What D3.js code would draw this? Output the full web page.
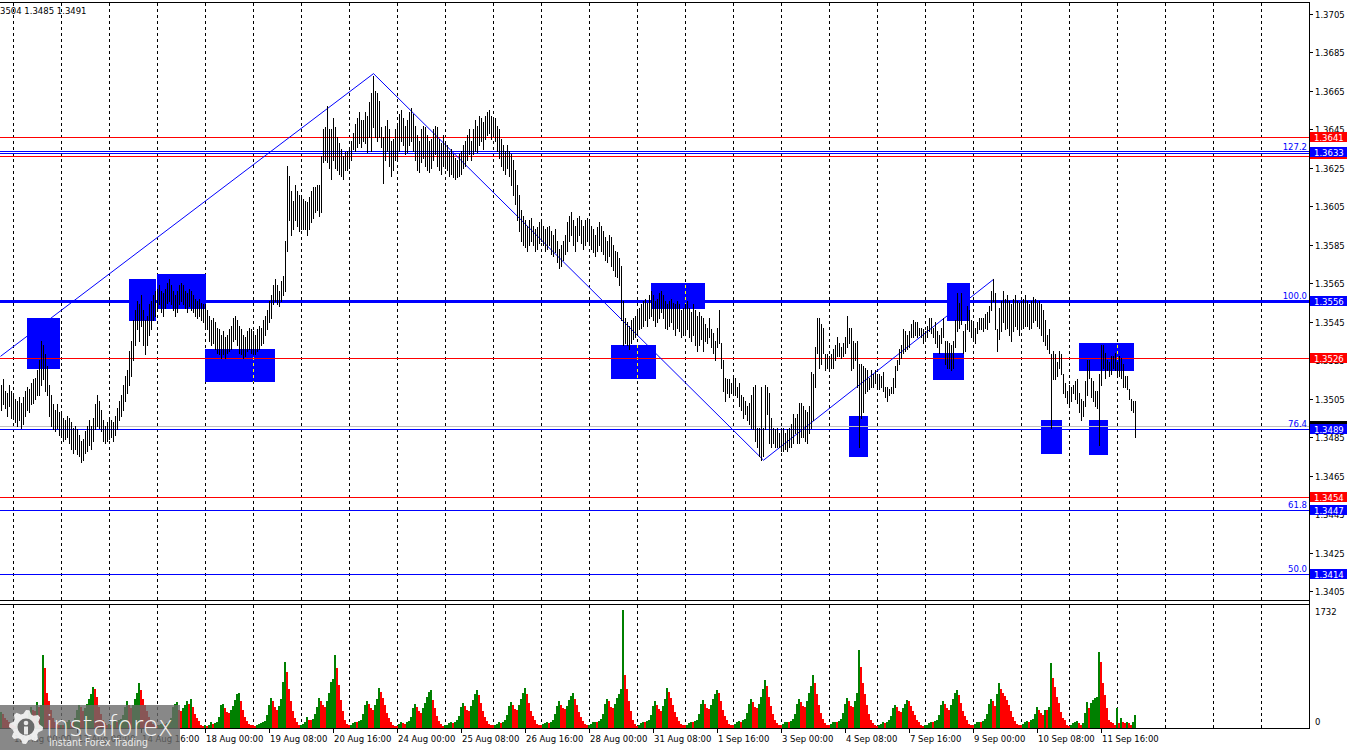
<!DOCTYPE html>
<html><head><meta charset="utf-8">
<script src="https://cdn.jsdelivr.net/npm/d3@7"></script>
<style>
body{margin:0;background:#fff;overflow:hidden}
svg{display:block}
text{font-family:"DejaVu Sans",sans-serif}
</style>
</head><body>
<svg id="c" width="1350" height="750"></svg>
<script>
// ---------- DATA (H1 bars, index 0 = first bar on the left) ----------
const high = [
1.3512,1.3515,1.3509,1.3508,1.3512,1.3509,
1.3507,1.3505,1.3504,1.3506,1.3503,1.3506,1.3509,1.3511,1.3510,1.3513,1.3515,1.3516,1.3520,1.3525,1.3535,1.3533,1.3528,1.3522,1.3512,1.3507,1.3502,1.3499,1.3502,1.3498,
1.3498,1.3495,1.3494,1.3496,1.3495,1.3493,1.3490,1.3491,1.3489,1.3486,1.3483,1.3484,1.3488,1.3491,1.3494,1.3491,1.3495,1.3502,1.3507,1.3504,1.3499,1.3494,1.3491,1.3493,
1.3495,1.3494,1.3493,1.3496,1.3500,1.3504,1.3507,1.3512,1.3517,1.3520,1.3530,1.3535,1.3546,1.3551,1.3556,1.3554,1.3559,1.3551,1.3546,1.3548,1.3554,1.3556,1.3559,1.3561,
1.3562,1.3564,1.3561,1.3560,1.3562,1.3565,1.3567,1.3564,1.3561,1.3559,1.3561,1.3564,1.3565,1.3564,1.3561,1.3560,1.3562,1.3561,1.3559,1.3557,1.3556,1.3557,1.3555,1.3554,
1.3554,1.3551,1.3548,1.3546,1.3547,1.3545,1.3542,1.3541,1.3538,1.3540,1.3537,1.3538,1.3541,1.3543,1.3547,1.3548,1.3546,1.3543,1.3541,1.3538,1.3537,1.3540,1.3542,1.3541,
1.3540,1.3538,1.3541,1.3543,1.3542,1.3546,1.3548,1.3551,1.3556,1.3559,1.3564,1.3567,1.3564,1.3561,1.3566,1.3569,1.3587,1.3626,1.3621,1.3613,1.3608,1.3616,1.3613,1.3611,
1.3611,1.3609,1.3608,1.3607,1.3610,1.3613,1.3615,1.3615,1.3616,1.3616,1.3631,1.3645,1.3646,1.3657,1.3645,1.3645,1.3651,1.3646,1.3641,1.3638,1.3635,1.3631,1.3633,1.3634,
1.3635,1.3639,1.3643,1.3648,1.3651,1.3654,1.3650,1.3650,1.3654,1.3652,1.3659,1.3664,1.3673,1.3665,1.3664,1.3660,1.3646,1.3641,1.3647,1.3650,1.3645,1.3639,1.3640,1.3645,
1.3647,1.3653,1.3655,1.3651,1.3647,1.3650,1.3654,1.3656,1.3653,1.3647,1.3642,1.3639,1.3645,1.3647,1.3646,1.3642,1.3639,1.3640,1.3645,1.3647,1.3646,1.3640,1.3638,1.3642,
1.3639,1.3637,1.3634,1.3635,1.3632,1.3630,1.3629,1.3632,1.3634,1.3637,1.3639,1.3642,1.3645,1.3639,1.3645,1.3650,1.3647,1.3652,1.3651,1.3649,1.3652,1.3654,1.3655,1.3652,
1.3650,1.3651,1.3647,1.3645,1.3640,1.3637,1.3634,1.3637,1.3634,1.3632,1.3629,1.3624,1.3616,1.3611,1.3603,1.3600,1.3598,1.3595,1.3598,1.3599,1.3595,1.3593,1.3594,1.3597,
1.3598,1.3595,1.3593,1.3594,1.3595,1.3592,1.3590,1.3593,1.3587,1.3583,1.3585,1.3587,1.3590,1.3597,1.3600,1.3602,1.3598,1.3595,1.3599,1.3600,1.3598,1.3595,1.3598,1.3599,
1.3597,1.3595,1.3593,1.3590,1.3594,1.3597,1.3595,1.3592,1.3589,1.3587,1.3590,1.3589,1.3585,1.3582,1.3581,1.3578,1.3574,1.3556,1.3547,1.3545,1.3543,1.3546,1.3547,1.3548,
1.3550,1.3552,1.3554,1.3556,1.3557,1.3555,1.3559,1.3561,1.3559,1.3556,1.3557,1.3560,1.3561,1.3559,1.3556,1.3554,1.3556,1.3557,1.3555,1.3554,1.3556,1.3554,1.3551,1.3552,
1.3554,1.3556,1.3552,1.3550,1.3554,1.3551,1.3548,1.3550,1.3548,1.3547,1.3544,1.3542,1.3547,1.3541,1.3539,1.3535,1.3542,1.3551,1.3534,1.3525,1.3516,1.3515,1.3515,1.3513,
1.3517,1.3516,1.3511,1.3513,1.3507,1.3506,1.3504,1.3501,1.3503,1.3507,1.3511,1.3512,1.3490,1.3490,1.3511,1.3490,1.3512,1.3511,1.3508,1.3495,1.3490,1.3489,1.3490,1.3487,
1.3490,1.3490,1.3487,1.3489,1.3490,1.3492,1.3497,1.3495,1.3497,1.3503,1.3503,1.3501,1.3499,1.3498,1.3501,1.3519,1.3518,1.3532,1.3547,1.3547,1.3544,1.3542,1.3528,1.3528,
1.3527,1.3528,1.3531,1.3533,1.3537,1.3534,1.3532,1.3534,1.3537,1.3548,1.3542,1.3542,1.3535,1.3534,1.3535,1.3523,1.3523,1.3522,1.3521,1.3520,1.3516,1.3520,1.3518,1.3520,
1.3518,1.3518,1.3517,1.3519,1.3511,1.3511,1.3510,1.3511,1.3516,1.3522,1.3525,1.3531,1.3533,1.3541,1.3540,1.3538,1.3540,1.3544,1.3546,1.3545,1.3545,1.3542,1.3542,1.3541,
1.3540,1.3543,1.3547,1.3547,1.3542,1.3545,1.3540,1.3538,1.3542,1.3547,1.3535,1.3535,1.3534,1.3533,1.3535,1.3546,1.3560,1.3555,1.3560,1.3540,1.3544,1.3553,1.3551,1.3546,
1.3545,1.3542,1.3545,1.3547,1.3547,1.3547,1.3549,1.3550,1.3553,1.3561,1.3567,1.3560,1.3541,1.3552,1.3556,1.3561,1.3557,1.3559,1.3556,1.3554,1.3557,1.3559,1.3556,1.3555,
1.3556,1.3557,1.3559,1.3556,1.3554,1.3556,1.3558,1.3557,1.3555,1.3556,1.3554,1.3551,1.3546,1.3538,1.3541,1.3528,1.3530,1.3528,1.3524,1.3530,1.3528,1.3518,1.3513,1.3509,
1.3512,1.3511,1.3512,1.3514,1.3515,1.3508,1.3505,1.3504,1.3514,1.3525,1.3525,1.3516,1.3514,1.3509,1.3509,1.3518,1.3533,1.3533,1.3529,1.3525,1.3524,1.3527,1.3527,1.3529,
1.3524,1.3527,1.3526,1.3523,1.3517,1.3517,1.3510,1.3505,1.3504,1.3504
];
const low = [
1.3499,1.3502,1.3500,1.3496,1.3501,1.3495,
1.3495,1.3493,1.3491,1.3494,1.3490,1.3492,1.3496,1.3499,1.3498,1.3502,1.3503,1.3505,1.3507,1.3507,1.3512,1.3515,1.3509,1.3507,1.3496,1.3491,1.3489,1.3488,1.3490,1.3486,
1.3486,1.3483,1.3484,1.3485,1.3482,1.3479,1.3477,1.3479,1.3476,1.3475,1.3472,1.3473,1.3477,1.3478,1.3481,1.3479,1.3483,1.3489,1.3491,1.3490,1.3488,1.3483,1.3482,1.3483,
1.3484,1.3485,1.3483,1.3486,1.3489,1.3494,1.3496,1.3499,1.3504,1.3508,1.3512,1.3517,1.3525,1.3533,1.3541,1.3535,1.3543,1.3533,1.3528,1.3533,1.3538,1.3541,1.3546,1.3548,
1.3551,1.3554,1.3550,1.3548,1.3552,1.3555,1.3556,1.3554,1.3551,1.3548,1.3550,1.3554,1.3556,1.3554,1.3552,1.3550,1.3553,1.3551,1.3550,1.3548,1.3547,1.3548,1.3546,1.3545,
1.3543,1.3541,1.3535,1.3533,1.3534,1.3531,1.3529,1.3528,1.3526,1.3528,1.3526,1.3529,1.3530,1.3531,1.3535,1.3536,1.3533,1.3529,1.3528,1.3526,1.3527,1.3530,1.3531,1.3529,
1.3528,1.3528,1.3530,1.3531,1.3533,1.3534,1.3538,1.3541,1.3545,1.3547,1.3554,1.3556,1.3554,1.3553,1.3556,1.3559,1.3561,1.3582,1.3598,1.3590,1.3593,1.3598,1.3595,1.3592,
1.3593,1.3593,1.3593,1.3590,1.3593,1.3597,1.3599,1.3602,1.3603,1.3600,1.3602,1.3628,1.3629,1.3628,1.3625,1.3619,1.3629,1.3625,1.3624,1.3622,1.3621,1.3619,1.3624,1.3624,
1.3625,1.3629,1.3635,1.3634,1.3636,1.3638,1.3636,1.3639,1.3638,1.3633,1.3641,1.3634,1.3646,1.3641,1.3639,1.3641,1.3636,1.3617,1.3629,1.3634,1.3626,1.3621,1.3624,1.3629,
1.3629,1.3634,1.3639,1.3637,1.3632,1.3633,1.3637,1.3639,1.3634,1.3629,1.3624,1.3623,1.3628,1.3630,1.3626,1.3624,1.3623,1.3625,1.3629,1.3632,1.3626,1.3624,1.3622,1.3626,
1.3625,1.3624,1.3621,1.3622,1.3620,1.3619,1.3620,1.3621,1.3622,1.3625,1.3626,1.3629,1.3632,1.3629,1.3632,1.3634,1.3633,1.3637,1.3639,1.3635,1.3640,1.3642,1.3643,1.3640,
1.3642,1.3639,1.3634,1.3630,1.3626,1.3624,1.3622,1.3625,1.3621,1.3616,1.3611,1.3606,1.3598,1.3592,1.3587,1.3585,1.3584,1.3582,1.3585,1.3587,1.3585,1.3582,1.3583,1.3586,
1.3587,1.3585,1.3582,1.3583,1.3585,1.3580,1.3579,1.3581,1.3576,1.3573,1.3574,1.3577,1.3580,1.3582,1.3587,1.3590,1.3585,1.3582,1.3587,1.3590,1.3586,1.3583,1.3585,1.3587,
1.3585,1.3583,1.3581,1.3579,1.3582,1.3585,1.3582,1.3580,1.3577,1.3576,1.3579,1.3574,1.3572,1.3569,1.3568,1.3564,1.3546,1.3533,1.3534,1.3533,1.3531,1.3534,1.3536,1.3537,
1.3538,1.3541,1.3542,1.3543,1.3546,1.3543,1.3547,1.3548,1.3546,1.3543,1.3545,1.3547,1.3550,1.3547,1.3542,1.3541,1.3543,1.3545,1.3541,1.3538,1.3542,1.3540,1.3537,1.3538,
1.3538,1.3541,1.3537,1.3535,1.3538,1.3533,1.3530,1.3533,1.3536,1.3530,1.3535,1.3534,1.3537,1.3532,1.3529,1.3525,1.3532,1.3534,1.3521,1.3509,1.3504,1.3508,1.3506,1.3508,
1.3508,1.3507,1.3506,1.3501,1.3499,1.3495,1.3497,1.3494,1.3492,1.3490,1.3489,1.3483,1.3480,1.3475,1.3473,1.3475,1.3489,1.3497,1.3482,1.3480,1.3482,1.3480,1.3480,1.3480,
1.3478,1.3478,1.3479,1.3478,1.3480,1.3480,1.3482,1.3487,1.3482,1.3482,1.3485,1.3485,1.3483,1.3482,1.3487,1.3490,1.3494,1.3511,1.3529,1.3521,1.3523,1.3529,1.3520,1.3521,
1.3521,1.3521,1.3521,1.3525,1.3527,1.3527,1.3526,1.3527,1.3529,1.3532,1.3534,1.3520,1.3521,1.3525,1.3511,1.3480,1.3495,1.3498,1.3508,1.3509,1.3510,1.3511,1.3511,1.3513,
1.3511,1.3510,1.3511,1.3509,1.3506,1.3504,1.3507,1.3508,1.3508,1.3511,1.3520,1.3523,1.3526,1.3529,1.3530,1.3531,1.3532,1.3537,1.3537,1.3538,1.3537,1.3538,1.3537,1.3534,
1.3535,1.3537,1.3540,1.3539,1.3537,1.3534,1.3532,1.3529,1.3534,1.3537,1.3523,1.3521,1.3521,1.3520,1.3521,1.3532,1.3540,1.3542,1.3544,1.3529,1.3530,1.3541,1.3540,1.3537,
1.3535,1.3534,1.3539,1.3541,1.3541,1.3540,1.3542,1.3541,1.3545,1.3551,1.3556,1.3541,1.3530,1.3536,1.3540,1.3545,1.3541,1.3542,1.3538,1.3535,1.3540,1.3543,1.3541,1.3538,
1.3541,1.3542,1.3543,1.3543,1.3541,1.3542,1.3545,1.3546,1.3543,1.3542,1.3538,1.3535,1.3533,1.3531,1.3529,1.3490,1.3515,1.3515,1.3517,1.3521,1.3518,1.3508,1.3506,1.3503,
1.3501,1.3504,1.3508,1.3505,1.3503,1.3498,1.3494,1.3496,1.3501,1.3507,1.3516,1.3506,1.3504,1.3501,1.3500,1.3481,1.3512,1.3521,1.3516,1.3520,1.3517,1.3518,1.3521,1.3520,
1.3517,1.3517,1.3516,1.3511,1.3511,1.3510,1.3505,1.3499,1.3498,1.3485
];
const volume = [
230,200,150,120,80,60,
40,35,60,80,70,90,60,120,230,300,260,240,370,300,330,1044,858,500,380,260,150,90,60,40,
50,40,70,90,110,90,80,150,260,330,300,250,280,350,420,480,586,560,450,300,200,120,70,40,
60,50,80,100,90,110,130,180,300,380,330,290,330,420,500,643,543,420,330,240,160,100,60,40,
30,40,60,70,60,70,90,150,300,350,372,260,250,280,330,380,340,420,300,200,150,100,50,30,
40,30,50,80,60,70,90,160,330,340,280,230,210,260,320,400,480,500,380,260,160,100,60,40,
40,30,50,60,70,80,100,180,330,430,380,300,260,320,420,660,944,800,560,380,240,150,80,40,
50,60,90,157,120,110,130,200,300,430,380,330,300,380,500,660,700,1044,858,620,400,250,120,60,
40,50,70,90,80,100,120,200,330,380,340,280,260,330,420,572,520,430,330,220,150,90,50,30,
30,60,80,70,60,80,100,160,280,340,300,250,220,280,360,440,520,543,400,280,170,100,60,30,
40,50,70,80,70,90,110,170,300,360,310,260,250,320,400,480,543,470,360,250,160,100,60,40,
40,50,60,80,70,90,110,180,320,370,330,270,260,330,420,500,572,480,360,250,170,110,60,40,
40,60,70,80,70,90,120,200,320,380,330,280,270,320,400,460,500,420,330,230,160,100,60,40,
50,60,80,90,80,100,130,200,340,420,380,300,280,350,430,480,560,1690,758,560,380,240,120,60,
30,50,70,90,80,100,120,190,320,380,330,270,250,320,420,572,520,430,330,230,160,100,60,40,
40,50,70,90,80,100,120,200,340,400,350,290,270,330,420,480,543,500,380,260,170,110,60,40,
40,60,80,100,90,110,130,210,350,420,370,300,280,350,450,560,686,600,450,320,200,120,70,40,
40,60,80,90,80,100,130,200,340,420,370,310,300,380,500,600,758,640,480,330,210,130,70,40,
40,60,80,90,80,100,130,210,350,430,380,320,300,380,500,1115,870,650,480,330,200,120,70,40,
30,50,60,80,70,90,110,170,280,330,300,250,230,280,340,400,380,320,250,180,120,80,50,30,
40,50,70,90,80,100,120,190,330,390,340,280,260,330,420,500,543,470,360,250,170,110,60,40,
40,60,80,90,80,100,130,200,350,420,380,320,480,643,560,500,460,400,330,240,160,100,60,40,
40,60,80,100,90,110,130,200,300,260,210,180,257,257,300,925,715,590,447,357,233,143,114,43,
29,43,67,90,105,67,43,67,210,376,281,357,400,424,447,1091,948,639,472,281,114,90,67,43,
281,67,143,90,67,90,67,43,90,190
];
const priceTicks = [1.3705,1.3685,1.3665,1.3645,1.3625,1.3605,1.3585,1.3565,1.3545,1.3525,1.3505,1.3485,1.3465,1.3445,1.3425,1.3405];
const timeTickIndex = [6,38,70,102,134,166,198,230,262,294,326,358,390,422,454,486,518,550];
const timeTickLabels = ["12 Aug 00:00","13 Aug 08:00","14 Aug 16:00","18 Aug 00:00","19 Aug 08:00","20 Aug 16:00","24 Aug 00:00","25 Aug 08:00","26 Aug 16:00","28 Aug 00:00","31 Aug 08:00","1 Sep 16:00","3 Sep 00:00","4 Sep 08:00","7 Sep 16:00","9 Sep 00:00","10 Sep 08:00","11 Sep 16:00"];
const dayStartIndex = [6,30,54,78,102,126,150,174,198,222,246,270,294,318,342,366,390,414,438,462,486,510,534,558,582,606,630];
const volumeMax = 1732;
// horizontal levels
const levelPrice = [1.3641,1.36312,1.36338,1.36327,1.3556,1.3526,1.3491,1.3489,1.3454,1.3447,1.3414];
const levelColor = ["#ff0000","#ff0000","#0000ff","#0000ff","#0000ff","#ff0000","#c0c0c0","#0000ff","#ff0000","#0000ff","#0000ff"];
const levelWidth = [1,1,1,1,3,1,1,1,1,1,1];
// fibonacci level captions
const fibPrice = [1.3633,1.3556,1.3489,1.3447,1.3414];
const fibText = ["127.2","100.0","76.4","61.8","50.0"];
// price tags on the axis (drawn in this order)
const tagPrice = [1.3632,1.3633,1.3641,1.3556,1.3526,1.3491,1.3489,1.3454,1.3447,1.3414];
const tagText  = ["","1.3633","1.3641","1.3556","1.3526","","1.3489","1.3454","1.3447","1.3414"];
const tagColor = ["#ff0000","#0000ff","#ff0000","#0000ff","#ff0000","#000000","#0000ff","#ff0000","#0000ff","#0000ff"];
// trend lines: [startIndex, startPrice, endIndex, endPrice]
const trendLines = [[-0.5,1.3527,186,1.3674],[186,1.3674,381,1.3473],[381,1.3473,496,1.3567]];
// rectangles: [fromIndex, toIndex, topPrice, bottomPrice]
const boxes = [[13,29,1.3547,1.3521],[64,77,1.3567,1.3546],[78,102,1.3570,1.3552],[102,136.5,1.3531,1.3514],
 [305,327,1.3533,1.3516],[325,351.5,1.3565,1.3552],[424,433,1.3496,1.3475],[466,481,1.3529,1.3515],
 [473,484,1.3565,1.3546],[520,530,1.3494,1.3477],[539,566,1.3534,1.3520],[544,553,1.3494,1.3476]];
const headerText = "3504 1.3485 1.3491";

// ---------- DRAW ----------
const svg = d3.select("#c");
const W = 1350, H = 750, RIGHT = 1309;
const x = d3.scaleLinear().domain([0, 654]).range([1, RIGHT]);
const y = d3.scaleLinear().domain([1.3405, 1.3705]).range([591, 14]);
const vy = d3.scaleLinear().domain([0, volumeMax]).range([728, 607]);

svg.append("rect").attr("width", W).attr("height", H).attr("fill", "#fff");
const defs = svg.append("defs");
defs.append("clipPath").attr("id","cm").append("rect").attr("x",0).attr("y",3).attr("width",RIGHT).attr("height",597);
defs.append("clipPath").attr("id","cv").append("rect").attr("x",0).attr("y",605).attr("width",RIGHT).attr("height",123);

const main = svg.append("g").attr("clip-path","url(#cm)");
const vol = svg.append("g").attr("clip-path","url(#cv)");

// grid
[ [main,3,600], [vol,605,728] ].forEach(([g,y0,y1]) => {
  g.append("g").selectAll("line").data(dayStartIndex).join("line")
   .attr("x1", d => Math.round(x(d)) + 0.5).attr("x2", d => Math.round(x(d)) + 0.5)
   .attr("y1", y0).attr("y2", y1)
   .attr("stroke", "#000").attr("stroke-width", 1).attr("stroke-dasharray", "3,3");
});

// rectangles
const bx = d => Math.round(x(d[0]));
const bw = d => Math.round(x(d[1])) - Math.round(x(d[0])) + 1;
const byT = d => Math.round(y(d[2]));
const byB = d => Math.round(y(d[3]));
main.append("g").attr("shape-rendering","crispEdges").selectAll("rect").data(boxes).join("rect")
  .attr("x", bx).attr("y", byT).attr("width", bw).attr("height", d => byB(d) - byT(d) + 1)
  .attr("fill", "#0000ff");
// grid dashes inverted (yellow) where they cross a rectangle
const crossings = [];
boxes.forEach(b => dayStartIndex.forEach(d => { if (d > b[0] && d < b[1]) crossings.push([d, b]); }));
main.append("g").selectAll("line").data(crossings).join("line")
  .attr("x1", c => Math.round(x(c[0])) + 0.5).attr("x2", c => Math.round(x(c[0])) + 0.5)
  .attr("y1", c => byT(c[1])).attr("y2", c => byB(c[1]) + 1)
  .attr("stroke", "#ffff00").attr("stroke-dasharray", "3,3")
  .attr("stroke-dashoffset", c => (byT(c[1]) - 3) % 6);

// horizontal levels
main.append("g").selectAll("line").data(levelPrice).join("line")
  .attr("x1", 0).attr("x2", RIGHT)
  .attr("y1", (d,i) => levelWidth[i] % 2 ? Math.round(y(d)) + 0.5 : Math.round(y(d)))
  .attr("y2", (d,i) => levelWidth[i] % 2 ? Math.round(y(d)) + 0.5 : Math.round(y(d)))
  .attr("stroke", (d,i) => levelColor[i]).attr("stroke-width", (d,i) => levelWidth[i]);

// trend lines
main.append("g").selectAll("line").data(trendLines).join("line")
  .attr("x1", d => x(d[0]) + 0.5).attr("y1", d => y(d[1]))
  .attr("x2", d => x(d[2]) + 0.5).attr("y2", d => y(d[3]))
  .attr("stroke", "#0000ff").attr("stroke-width", 1);

// price bars (high-low)
main.append("g").attr("shape-rendering","crispEdges").selectAll("rect").data(high).join("rect")
  .attr("x", (d,i) => Math.round(x(i)))
  .attr("y", (d,i) => Math.round(y(d)))
  .attr("width", 1)
  .attr("height", (d,i) => Math.max(1, Math.round(y(low[i])) - Math.round(y(d)) + 1))
  .attr("fill", "#000");

// fib captions
main.append("g").selectAll("text").data(fibPrice).join("text")
  .attr("x", 1307).attr("y", d => Math.round(y(d)) - 2)
  .attr("text-anchor", "end").attr("font-size", "8.5px").attr("fill", "#0000ff")
  .text((d,i) => fibText[i]);

// volume bars
vol.append("g").attr("shape-rendering","crispEdges").selectAll("rect").data(volume).join("rect")
  .attr("x", (d,i) => Math.round(x(i)) - 1)
  .attr("y", d => Math.round(vy(d)))
  .attr("width", 2)
  .attr("height", d => 728 - Math.round(vy(d)))
  .attr("fill", (d,i) => (i === 0 || d > volume[i-1]) ? "#008000" : "#ff0000");

// frame
const frame = svg.append("g").attr("stroke", "#000").attr("shape-rendering","crispEdges");
frame.append("line").attr("x1",0).attr("x2",RIGHT+1).attr("y1",2.5).attr("y2",2.5);
frame.append("line").attr("x1",0).attr("x2",RIGHT+1).attr("y1",600.5).attr("y2",600.5);
frame.append("line").attr("x1",0).attr("x2",RIGHT+1).attr("y1",604.5).attr("y2",604.5);
frame.append("line").attr("x1",0).attr("x2",RIGHT+1).attr("y1",728.5).attr("y2",728.5);
frame.append("line").attr("x1",RIGHT+0.5).attr("x2",RIGHT+0.5).attr("y1",2).attr("y2",729);

// price axis
const pa = svg.append("g");
pa.selectAll("line").data(priceTicks).join("line")
  .attr("x1", RIGHT).attr("x2", RIGHT+4)
  .attr("y1", d => Math.round(y(d)) + 0.5).attr("y2", d => Math.round(y(d)) + 0.5)
  .attr("stroke", "#000");
pa.selectAll("text").data(priceTicks).join("text")
  .attr("x", RIGHT + 6).attr("y", d => Math.round(y(d)) + 3.5)
  .attr("font-size", "8.5px").attr("fill", "#000")
  .text(d => d.toFixed(4));

// price tags
const tags = svg.append("g");
tagPrice.forEach((p, i) => {
  const cy = Math.round(y(p));
  tags.append("rect").attr("x", RIGHT + 1).attr("y", cy - 5).attr("width", 37).attr("height", 10)
    .attr("fill", tagColor[i]);
  if (tagText[i]) tags.append("text").attr("x", RIGHT + 5).attr("y", cy + 3.5)
    .attr("font-size", "8.5px").attr("fill", "#fff").text(tagText[i]);
});

// volume axis
svg.append("text").attr("x", RIGHT + 6).attr("y", 615).attr("font-size","8.5px").text(String(volumeMax));
svg.append("text").attr("x", RIGHT + 6).attr("y", 725).attr("font-size","8.5px").text("0");

// time axis
const ta = svg.append("g");
ta.selectAll("line").data(timeTickIndex).join("line")
  .attr("x1", d => Math.round(x(d)) + 0.5).attr("x2", d => Math.round(x(d)) + 0.5)
  .attr("y1", 729).attr("y2", 733).attr("stroke", "#000");
ta.selectAll("text").data(timeTickIndex).join("text")
  .attr("x", d => Math.round(x(d)) + 1).attr("y", 742)
  .attr("font-size", "8.5px").attr("fill", "#000")
  .text((d,i) => timeTickLabels[i]);

// header
svg.append("text").attr("x", 0).attr("y", 14).attr("font-size", "8.5px").attr("fill", "#000").text(headerText);

// watermark
const wm = svg.append("g");
wm.append("rect").attr("x",0).attr("y",705).attr("width",180).attr("height",45).attr("fill","#6a6a6a").attr("opacity",0.8);
const gcx = 26, gcy = 727, teeth = 8;
const gearPts = [];
for (let k = 0; k < teeth * 4; k++) {
  const a = (k / (teeth * 4)) * Math.PI * 2;
  const r = (k % 4 === 0 || k % 4 === 1) ? 17 : 13.5;
  gearPts.push([gcx + r * Math.cos(a), gcy + r * Math.sin(a)]);
}
wm.append("path").attr("d", d3.line()(gearPts) + "Z").attr("fill", "#fff").attr("opacity", 0.85);
wm.append("circle").attr("cx", gcx).attr("cy", gcy).attr("r", 8.5).attr("fill", "#6a6a6a");
wm.append("circle").attr("cx", gcx).attr("cy", gcy - 4).attr("r", 2.3).attr("fill", "#fff").attr("opacity", 0.85);
wm.append("rect").attr("x", gcx - 2).attr("y", gcy - 0.5).attr("width", 4).attr("height", 8).attr("fill", "#fff").attr("opacity", 0.85);
wm.append("text").attr("x", 46).attr("y", 736).attr("font-family", "'Open Sans',sans-serif").attr("font-weight", 300)
  .attr("font-size", "29px").attr("fill", "#fff").attr("opacity", 0.9)
  .attr("textLength", 127).attr("lengthAdjust", "spacingAndGlyphs").text("instaforex");
wm.append("text").attr("x", 49).attr("y", 746).attr("font-family", "'Open Sans',sans-serif")
  .attr("font-size", "10px").attr("fill", "#fff").attr("opacity", 0.85)
  .attr("textLength", 99).attr("lengthAdjust", "spacingAndGlyphs").text("Instant Forex Trading");
</script>
</body></html>
